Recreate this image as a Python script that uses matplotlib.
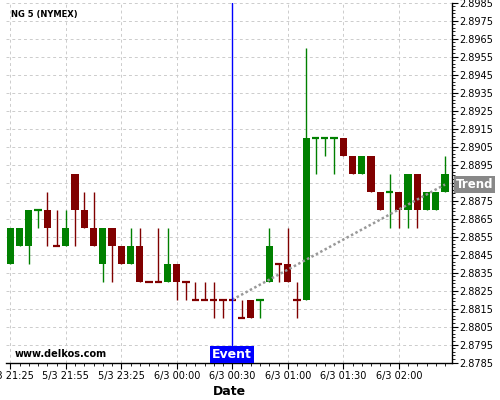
import numpy as np
import matplotlib
matplotlib.use('Agg')
import matplotlib.pyplot as plt
from matplotlib.ticker import FixedLocator, FormatStrFormatter
import matplotlib.transforms as mtransforms

# candle data (5 minute bars, NG 5 on NYMEX)
opens  = [2.884, 2.885, 2.885, 2.887, 2.887, 2.885, 2.885, 2.889, 2.887, 2.886,
          2.884, 2.886, 2.885, 2.884, 2.885, 2.883, 2.883, 2.883, 2.884, 2.883,
          2.882, 2.882, 2.882, 2.882, 2.882, 2.881, 2.882, 2.882, 2.883, 2.884,
          2.884, 2.882, 2.882, 2.891, 2.891, 2.891, 2.891, 2.890, 2.889, 2.890,
          2.888, 2.888, 2.888, 2.887, 2.889, 2.887, 2.887, 2.888]
highs  = [2.886, 2.886, 2.887, 2.887, 2.888, 2.887, 2.887, 2.889, 2.888, 2.888,
          2.886, 2.886, 2.885, 2.886, 2.886, 2.883, 2.886, 2.886, 2.884, 2.883,
          2.883, 2.883, 2.883, 2.882, 2.882, 2.882, 2.882, 2.882, 2.886, 2.884,
          2.886, 2.883, 2.896, 2.891, 2.891, 2.891, 2.891, 2.890, 2.890, 2.890,
          2.888, 2.889, 2.888, 2.889, 2.889, 2.888, 2.888, 2.890]
lows   = [2.884, 2.885, 2.884, 2.886, 2.885, 2.885, 2.885, 2.885, 2.886, 2.885,
          2.883, 2.883, 2.884, 2.884, 2.883, 2.883, 2.883, 2.883, 2.882, 2.882,
          2.882, 2.882, 2.881, 2.881, 2.882, 2.881, 2.881, 2.881, 2.883, 2.883,
          2.883, 2.881, 2.882, 2.889, 2.890, 2.889, 2.890, 2.889, 2.889, 2.888,
          2.887, 2.886, 2.886, 2.886, 2.886, 2.887, 2.887, 2.888]
closes = [2.886, 2.886, 2.887, 2.887, 2.886, 2.885, 2.886, 2.887, 2.886, 2.885,
          2.886, 2.885, 2.884, 2.885, 2.883, 2.883, 2.883, 2.884, 2.883, 2.883,
          2.882, 2.882, 2.882, 2.882, 2.882, 2.881, 2.881, 2.882, 2.885, 2.884,
          2.883, 2.882, 2.891, 2.891, 2.891, 2.891, 2.890, 2.889, 2.890, 2.888,
          2.887, 2.888, 2.887, 2.889, 2.887, 2.888, 2.888, 2.889]
# doji bars (open == close) that are drawn green
doji_up = [3, 27, 33, 34, 35, 41]

tick_idx = [0, 6, 12, 18, 24, 30, 36, 42]
tick_labels = ['5/3 21:25', '5/3 21:55', '5/3 23:25', '6/3 00:00',
               '6/3 00:30', '6/3 01:00', '6/3 01:30', '6/3 02:00']

event_idx = 24
trend_x = [24, 47]
trend_y = [2.8820, 2.8884]

green = '#008000'
red = '#800000'

fig = plt.figure(figsize=(5, 4), dpi=100)
ax = fig.add_axes([0.012, 0.0933, 0.892, 0.9])

x = np.arange(len(opens))
o = np.array(opens); h = np.array(highs); l = np.array(lows); c = np.array(closes)
cols = []
for i in range(len(x)):
    if c[i] > o[i] or (c[i] == o[i] and i in doji_up):
        cols.append(green)
    else:
        cols.append(red)

w = 0.78
ax.vlines(x, l, h, colors=cols, linewidth=1, zorder=2)
for i in range(len(x)):
    if o[i] == c[i]:
        ax.hlines(o[i], x[i] - w / 2, x[i] + w / 2, colors=cols[i], linewidth=1.6, zorder=3)
    else:
        ax.bar(x[i], abs(c[i] - o[i]), bottom=min(o[i], c[i]), width=w,
               color=cols[i], linewidth=0, zorder=3)

# trend line
ax.plot(trend_x, trend_y, color='#999999', linestyle=(0, (1, 1)), linewidth=1.8, zorder=4)
ax.annotate('Trend', xy=(1.0, trend_y[1]), xycoords=('axes fraction', 'data'),
            xytext=(3, 0), textcoords='offset points', ha='left', va='center',
            color='white', fontsize=8.5, fontweight='bold',
            bbox=dict(boxstyle='square,pad=0.15', fc='#888888', ec='none'),
            annotation_clip=False, zorder=6)

# event marker
ax.axvline(event_idx, color='#0000ff', linewidth=1, zorder=5)
trans = mtransforms.blended_transform_factory(ax.transData, ax.transAxes)
ax.text(event_idx, 0.004, 'Event', transform=trans, ha='center', va='bottom',
        color='white', fontsize=9, fontweight='bold',
        bbox=dict(boxstyle='square,pad=0.15', fc='#0000ff', ec='none'), zorder=6)

ax.text(0.02, 0.025, 'www.delkos.com', transform=ax.transAxes, fontsize=7,
        fontweight='bold', ha='left', va='center', zorder=6)
fig.text(0.022, 0.965, 'NG 5 (NYMEX)', fontsize=6, fontweight='bold', ha='left', va='center')

ax.set_xlim(-0.46, 47.75)
ax.set_ylim(2.8785, 2.8985)

ax.yaxis.tick_right()
ax.yaxis.set_major_locator(FixedLocator(np.arange(2.8785, 2.89851, 0.001)))
ax.yaxis.set_minor_locator(FixedLocator(np.arange(2.8785, 2.89851, 0.0002)))
ax.yaxis.set_major_formatter(FormatStrFormatter('%.4f'))
ax.set_xticks(tick_idx)
ax.set_xticklabels(tick_labels)
ax.xaxis.set_minor_locator(FixedLocator(x))
ax.tick_params(axis='both', which='major', labelsize=7, length=4, direction='out', pad=2)
ax.tick_params(axis='both', which='minor', length=2, direction='out')
ax.tick_params(axis='y', which='major', pad=1)

ax.set_xlabel('Date', fontsize=9, fontweight='bold', labelpad=3)

ax.grid(True, color='#cccccc', linestyle=(0, (3, 3)), linewidth=0.7, zorder=0)
ax.set_axisbelow(True)
for s in ['left', 'top']:
    ax.spines[s].set_visible(False)
ax.spines['bottom'].set_linewidth(1)
ax.spines['right'].set_linewidth(1)

fig.savefig('out.png', dpi=100)
